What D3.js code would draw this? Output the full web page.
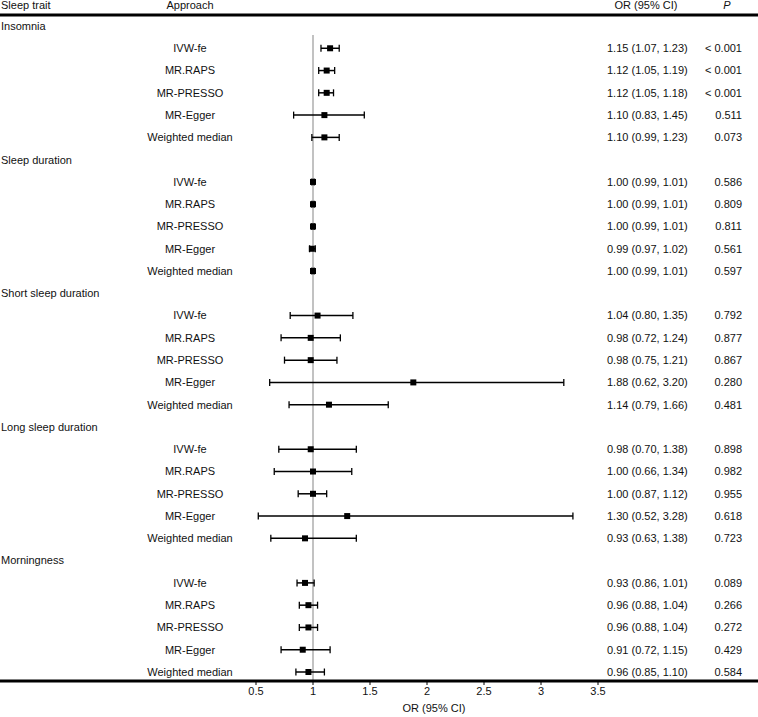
<!DOCTYPE html>
<html>
<head>
<meta charset="utf-8">
<script src="https://cdn.jsdelivr.net/npm/d3@7"></script>
<style>
  body { margin: 0; background: #fff; }
  text { font-family: "Liberation Sans", Arial, sans-serif; font-size: 11px; fill: #111; }
</style>
</head>
<body>
<div class="canvas"></div>
<script>
const traits = ['Insomnia', 'Sleep duration', 'Short sleep duration', 'Long sleep duration', 'Morningness'];
const methods = ['IVW-fe', 'MR.RAPS', 'MR-PRESSO', 'MR-Egger', 'Weighted median'];

const orValues = [
    [1.15, 1.12, 1.12, 1.10, 1.10],
    [1.00, 1.00, 1.00, 0.99, 1.00],
    [1.04, 0.98, 0.98, 1.88, 1.14],
    [0.98, 1.00, 1.00, 1.30, 0.93],
    [0.93, 0.96, 0.96, 0.91, 0.96]
];
const lowerCI = [
    [1.07, 1.05, 1.05, 0.83, 0.99],
    [0.99, 0.99, 0.99, 0.97, 0.99],
    [0.80, 0.72, 0.75, 0.62, 0.79],
    [0.70, 0.66, 0.87, 0.52, 0.63],
    [0.86, 0.88, 0.88, 0.72, 0.85]
];
const upperCI = [
    [1.23, 1.19, 1.18, 1.45, 1.23],
    [1.01, 1.01, 1.01, 1.02, 1.01],
    [1.35, 1.24, 1.21, 3.20, 1.66],
    [1.38, 1.34, 1.12, 3.28, 1.38],
    [1.01, 1.04, 1.04, 1.15, 1.10]
];
const pValues = [
    ['< 0.001', '< 0.001', '< 0.001', '0.511', '0.073'],
    ['0.586', '0.809', '0.811', '0.561', '0.597'],
    ['0.792', '0.877', '0.867', '0.280', '0.481'],
    ['0.898', '0.982', '0.955', '0.618', '0.723'],
    ['0.089', '0.266', '0.272', '0.429', '0.584']
];
const xTicks = [0.5, 1, 1.5, 2, 2.5, 3, 3.5];

const dims = { width: 758, height: 717 };

// flatten into rows: a header row per trait then one row per method
const rows = [];
traits.forEach((trait, i) => {
    rows.push({ key: 'g' + i, type: 'group', label: trait });
    methods.forEach((m, j) => {
        rows.push({
            key: i + '-' + j, type: 'est', label: m,
            or: orValues[i][j], lo: lowerCI[i][j], hi: upperCI[i][j], p: pValues[i][j]
        });
    });
});

const svg = d3.select('.canvas')
                .append('svg')
                .attr('width', dims.width)
                .attr('height', dims.height);

const x = d3.scaleLinear().domain([0.5, 3.5]).range([256, 598]);
const y = d3.scalePoint().domain(rows.map(r => r.key)).range([26, 672]);

const axisY = 681;

// header
const header = svg.append('g');
header.append('text').attr('x', 1).attr('y', 9).text('Sleep trait');
header.append('text').attr('x', 190).attr('y', 9).attr('text-anchor', 'middle').text('Approach');
header.append('text').attr('x', 646).attr('y', 9).attr('text-anchor', 'middle').text('OR (95% CI)');
header.append('text').attr('x', 727).attr('y', 9).attr('text-anchor', 'middle')
    .style('font-style', 'italic').text('P');
svg.append('line')
    .attr('x1', 0).attr('x2', dims.width)
    .attr('y1', 15).attr('y2', 15)
    .attr('stroke', '#000').attr('stroke-width', 3);

// reference line at OR = 1
svg.append('line')
    .attr('x1', x(1)).attr('x2', x(1))
    .attr('y1', 35).attr('y2', axisY)
    .attr('stroke', '#999').attr('stroke-width', 1.2);

const groups = rows.filter(r => r.type === 'group');
svg.selectAll('text.trait')
    .data(groups)
    .enter()
    .append('text')
    .attr('class', 'trait')
    .attr('x', 1)
    .attr('y', d => y(d.key))
    .attr('dy', '0.35em')
    .text(d => d.label);

const est = rows.filter(r => r.type === 'est');
const estG = svg.selectAll('g.est')
    .data(est)
    .enter()
    .append('g')
    .attr('class', 'est')
    .attr('transform', d => `translate(0, ${y(d.key)})`);

estG.append('text')
    .attr('x', 190).attr('dy', '0.35em')
    .attr('text-anchor', 'middle')
    .text(d => d.label);

estG.append('text')
    .attr('x', 607).attr('dy', '0.35em')
    .text(d => `${d.or.toFixed(2)} (${d.lo.toFixed(2)}, ${d.hi.toFixed(2)})`);

estG.append('text')
    .attr('x', 742).attr('dy', '0.35em')
    .attr('text-anchor', 'end')
    .text(d => d.p);

// error bars
estG.append('line')
    .attr('x1', d => x(d.lo)).attr('x2', d => x(d.hi))
    .attr('stroke', '#000').attr('stroke-width', 1.5);
estG.append('line')
    .attr('x1', d => x(d.lo)).attr('x2', d => x(d.lo))
    .attr('y1', -3.5).attr('y2', 3.5)
    .attr('stroke', '#000').attr('stroke-width', 1.3);
estG.append('line')
    .attr('x1', d => x(d.hi)).attr('x2', d => x(d.hi))
    .attr('y1', -3.5).attr('y2', 3.5)
    .attr('stroke', '#000').attr('stroke-width', 1.3);
estG.append('rect')
    .attr('x', d => x(d.or) - 3)
    .attr('y', -3)
    .attr('width', 6).attr('height', 6)
    .attr('fill', '#000');

// x axis
svg.append('line')
    .attr('x1', 0).attr('x2', dims.width)
    .attr('y1', axisY).attr('y2', axisY)
    .attr('stroke', '#000').attr('stroke-width', 3);

const ticks = svg.selectAll('g.tick')
    .data(xTicks)
    .enter()
    .append('g')
    .attr('class', 'tick')
    .attr('transform', d => `translate(${x(d)}, ${axisY})`);
ticks.append('line').attr('y1', 0).attr('y2', 4).attr('stroke', '#000').attr('stroke-width', 1);
ticks.append('text')
    .attr('y', 14)
    .attr('text-anchor', 'middle')
    .text(d => d3.format('')(d));

svg.append('text')
    .attr('x', 434).attr('y', 712)
    .attr('text-anchor', 'middle')
    .text('OR (95% CI)');
</script>
</body>
</html>
